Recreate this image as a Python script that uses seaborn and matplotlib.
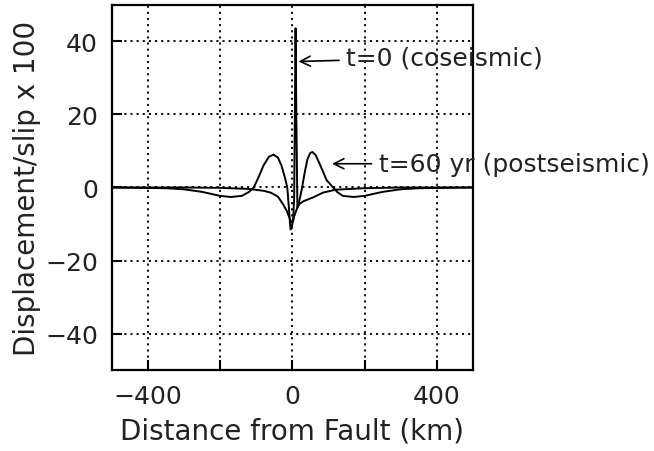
import matplotlib
matplotlib.use("Agg")
import matplotlib.pyplot as plt
import seaborn as sns
import pandas as pd

# ---- data ----
cos_x = [-500, -300, -200, -120, -80, -60, -40, -25, -15, -8, -3, 2, 5, 7, 9, 11, 14, 20, 30, 45, 58, 85, 120, 200, 300, 500]
cos_y = [0, 0, -0.1, -0.4, -0.9, -1.4, -2.5, -4.7, -6.5, -8.3, -9.5, -9.2, -3, 20, 43.6, 20, -5.5, -4.5, -3.8, -3.2, -2.7, -1.4, -0.6, -0.2, 0, 0]

post_x = [-500, -350, -300, -250, -200, -170, -140, -120, -107, -95, -80, -65, -52, -40, -30, -20, -14, -10, -7, -5, -2, 0, 5, 10, 16, 22, 27, 35, 42, 50, 56, 65, 80, 95, 113, 125, 140, 170, 200, 250, 300, 350, 500]
post_y = [0, -0.2, -0.5, -1.2, -2.3, -2.6, -2.3, -1.2, 0, 2.5, 6, 8.4, 9.0, 8.2, 6, 2.5, 0, -5, -9, -11.5, -11, -10, -8, -6.5, -5, -2.5, 0, 4.5, 7.8, 9.5, 9.7, 8.8, 5.5, 2, 0, -1.3, -2.3, -2.6, -2.3, -1.2, -0.5, -0.2, 0]

x_ticks = [-400, -200, 0, 200, 400]
x_tick_labels = ["\u2212400", "", "0", "", "400"]
y_ticks = [-40, -20, 0, 20, 40]
y_tick_labels = ["\u221240", "\u221220", "0", "20", "40"]

label_cos = "t=0 (coseismic)"
label_post = "t=60 yr (postseismic)"

sns.set_theme(style="white")
plt.rcParams["font.family"] = ["DejaVu Sans"]

fig = plt.figure(figsize=(6.54, 4.52), dpi=100)
ax = fig.add_axes([0.171, 0.179, 0.552, 0.808])

df_cos = pd.DataFrame({"x": cos_x, "y": cos_y})
df_post = pd.DataFrame({"x": post_x, "y": post_y})
sns.lineplot(data=df_cos, x="x", y="y", ax=ax, color="black", lw=1.4, sort=False, estimator=None)
sns.lineplot(data=df_post, x="x", y="y", ax=ax, color="black", lw=1.4, sort=False, estimator=None)

ax.set_xlim(-500, 500)
ax.set_ylim(-50, 50)
ax.set_xticks(x_ticks)
ax.set_xticklabels(x_tick_labels)
ax.set_yticks(y_ticks)
ax.set_yticklabels(y_tick_labels)
ax.grid(True, color="black", linestyle=(0, (1.2, 2.2)), linewidth=1.3)
ax.tick_params(direction="in", length=7, width=1.5, color="black", labelsize=18,
               labelcolor="#222222", pad=10, bottom=True, left=True)
for s in ax.spines.values():
    s.set_color("black")
    s.set_linewidth(1.6)

ax.set_xlabel("Distance from Fault (km)", fontsize=20, color="#222222", labelpad=6)
ax.set_ylabel("Displacement/slip x 100", fontsize=20, color="#222222", labelpad=3)

ax.annotate(label_cos, xy=(17, 34.5), xytext=(150, 35.6), fontsize=18, color="#222222",
            va="center", ha="left",
            arrowprops=dict(arrowstyle="->", color="black", lw=1.2, shrinkA=3, shrinkB=0))
ax.annotate(label_post, xy=(110, 6.5), xytext=(240, 6.5), fontsize=18, color="#222222",
            va="center", ha="left",
            arrowprops=dict(arrowstyle="->", color="black", lw=1.2, shrinkA=3, shrinkB=0))

fig.savefig("out.png", dpi=100)
